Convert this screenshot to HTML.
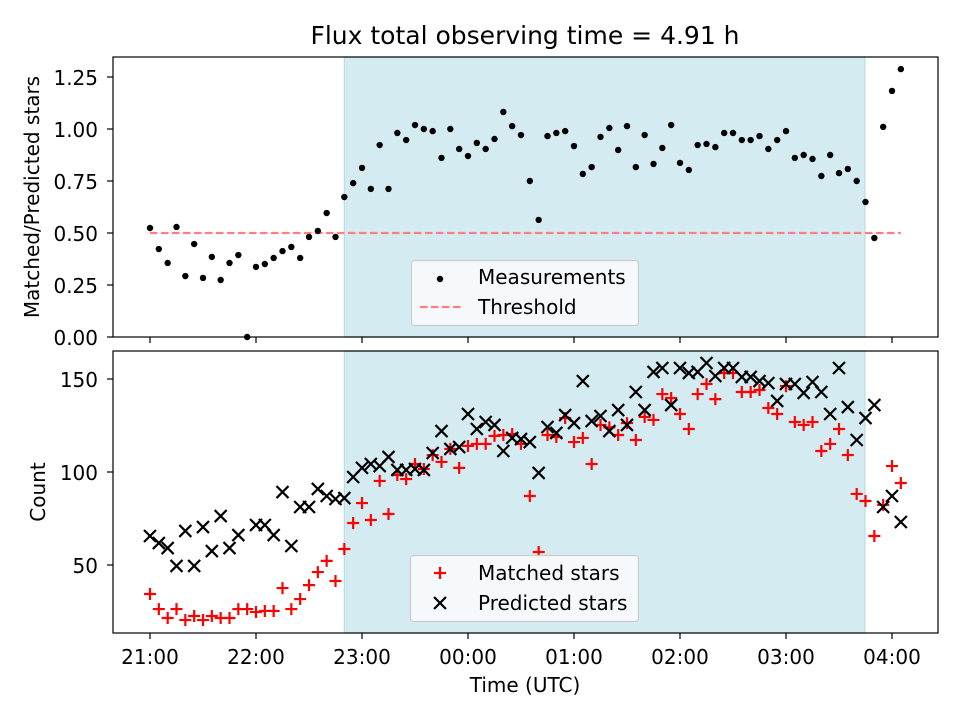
<!DOCTYPE html>
<html><head><meta charset="utf-8"><style>
html,body{margin:0;padding:0;background:#fff;}
svg{display:block;font-family:"DejaVu Sans","Liberation Sans",sans-serif;}
</style></head><body>
<svg id="fig" width="960" height="720" viewBox="0 0 960 720" xmlns="http://www.w3.org/2000/svg"></svg>
<script>
// ---- data ----
const minutes = Array.from({length:86},(_,i)=>i*5); // sample times, minutes after 21:00
const ratio = [0.524,0.423,0.356,0.529,0.293,0.447,0.284,0.385,0.274,0.356,0.394,0.0,0.337,0.351,0.380,0.413,0.433,0.380,0.481,0.510,0.596,0.481,0.673,0.740,0.813,0.712,0.923,0.712,0.981,0.947,1.019,1.000,0.990,0.861,1.000,0.904,0.870,0.933,0.904,0.952,1.082,1.014,0.971,0.750,0.563,0.966,0.981,0.990,0.918,0.784,0.817,0.962,1.005,0.899,1.014,0.817,0.971,0.832,0.909,1.019,0.837,0.803,0.923,0.928,0.913,0.981,0.981,0.947,0.947,0.966,0.904,0.947,0.990,0.861,0.875,0.856,0.774,0.875,0.788,0.808,0.750,0.649,0.476,1.010,1.183,1.288];
const matched = [34.4,26.3,21.5,26.3,20.4,22.6,20.4,22.6,21.5,21.5,26.3,26.3,24.7,25.3,25.3,37.6,26.3,31.7,39.2,46.2,52.2,41.4,58.6,72.6,83.3,74.2,95.2,77.4,98.4,96.2,104.3,101.6,109.1,105.4,112.4,102.2,114.0,115.1,115.1,119.4,119.9,120.4,115.1,87.1,57.0,119.9,118.8,129.0,116.1,118.3,104.3,125.3,124.0,119.9,126.3,117.2,129.6,128.0,141.9,139.8,131.2,123.1,141.9,147.3,139.2,153.2,153.2,143.0,143.0,144.1,134.4,131.2,146.2,126.9,125.3,126.9,111.3,115.1,123.1,109.1,88.2,84.4,65.6,82.3,103.2,94.1];
const predicted = [65.6,61.8,59.1,49.5,68.3,49.5,70.4,57.5,76.3,59.1,66.1,null,71.5,71.5,66.1,89.2,60.2,81.2,81.2,90.9,87.1,85.5,86.0,97.3,102.2,104.3,103.2,108.1,101.1,101.1,101.6,101.1,110.2,122.0,112.4,113.4,131.2,123.1,126.9,125.3,111.3,118.3,117.7,116.1,99.5,124.2,121.0,130.6,126.3,148.9,127.4,130.1,122.0,133.3,125.3,143.0,133.3,153.8,155.9,136.0,155.9,153.2,153.8,158.6,151.6,155.9,155.9,151.1,151.1,148.9,147.8,138.2,147.3,147.3,142.5,148.4,143.0,131.2,155.9,134.9,117.2,129.0,136.0,81.2,87.1,73.1];
const threshold = 0.5;
const spanStart = 110; const spanEnd = 404.7; // minutes after 21:00
const xTickLabels = ["21:00","22:00","23:00","00:00","01:00","02:00","03:00","04:00"];
const topYTicks = [0,0.25,0.5,0.75,1.0,1.25];
const botYTicks = [50,100,150];

// ---- axes ----
const NS="http://www.w3.org/2000/svg";
const svg=document.getElementById('fig');
const AX={l:113,r:938};
const TOP={t:57,b:337}, BOT={t:351,b:633};
const X = m => 150 + m*106/60;
const YT = v => 337 - v*208;
const YB = c => 379 + (150-c)*1.86;
function el(tag,attrs,parent){const e=document.createElementNS(NS,tag);for(const k in attrs)e.setAttribute(k,attrs[k]);(parent||svg).appendChild(e);return e;}
function txt(s,attrs,parent){const e=el('text',attrs,parent);e.textContent=s;return e;}

const bg=el('rect',{x:0,y:0,width:960,height:720,fill:'#fff'});



const title=txt('Flux total observing time = 4.91 h',{x:525,y:44,'font-size':25,'text-anchor':'middle',fill:'#000'});



function panel(P,name){
  const g=el('g',{});
  
  
  const sp=el('rect',{x:X(spanStart),y:P.t,width:X(spanEnd)-X(spanStart),height:P.b-P.t,fill:'#d5ebf2',stroke:'#b8dce7','stroke-width':1.2},g);
  
  
  return g;
}
function frame(P,g){
  const f=el('rect',{x:AX.l,y:P.t,width:AX.r-AX.l,height:P.b-P.t,fill:'none',stroke:'#000','stroke-width':1.2},g);
  
  
  xTickLabels.forEach((lab,i)=>{
    const x=X(i*60);
    el('line',{x1:x,x2:x,y1:P.b,y2:P.b+6,stroke:'#000','stroke-width':1.2},g);
  });
}

// ---- top panel ----
const gTop=panel(TOP,'ratio-panel');
const th=el('line',{x1:X(0),x2:X(minutes[minutes.length-1]),y1:YT(threshold),y2:YT(threshold),stroke:'#ff7f7f','stroke-width':2.2,'stroke-dasharray':'7.5,3.5'},gTop);


ratio.forEach((v,i)=>{
  const c=el('circle',{cx:X(minutes[i]),cy:YT(v),r:3.2,fill:'#000'},gTop);
  
  
});
frame(TOP,gTop);
topYTicks.forEach(v=>{
  const y=YT(v);
  el('line',{x1:AX.l-6,x2:AX.l,y1:y,y2:y,stroke:'#000','stroke-width':1.2},gTop);
  const t=txt(v.toFixed(2),{x:AX.l-15,y:y+8,'font-size':20,'text-anchor':'end'},gTop);
  
  
});
const ylT=txt('Matched/Predicted stars',{x:0,y:0,'font-size':20,'text-anchor':'middle',transform:'translate(39,197) rotate(-90)'});



// top legend
const lg1=el('g',{});


el('rect',{x:411.5,y:260.5,width:227,height:65,rx:3,fill:'#f6f9fb',stroke:'#cccccc','stroke-width':1.2},lg1);
el('circle',{cx:440,cy:279,r:3.2,fill:'#000'},lg1);
const le1=txt('Measurements',{x:478,y:284,'font-size':20},lg1);


el('line',{x1:420,x2:462,y1:307,y2:307,stroke:'#ff7f7f','stroke-width':2.2,'stroke-dasharray':'7.5,3.5'},lg1);
const le2=txt('Threshold',{x:478,y:314,'font-size':20},lg1);



// ---- bottom panel ----
const gBot=panel(BOT,'count-panel');
function plus(x,y,g){const p=el('path',{d:`M${x-6},${y}H${x+6}M${x},${y-6}V${y+6}`,stroke:'#ff0000','stroke-width':2.2,fill:'none'},g);return p;}
function cross(x,y,g){const p=el('path',{d:`M${x-6},${y-6}L${x+6},${y+6}M${x-6},${y+6}L${x+6},${y-6}`,stroke:'#000','stroke-width':2.2,fill:'none'},g);return p;}
matched.forEach((v,i)=>{
  const p=plus(X(minutes[i]),YB(v),gBot);
  
  
});
predicted.forEach((v,i)=>{
  if(v===null) return;
  const p=cross(X(minutes[i]),YB(v),gBot);
  
  
});
frame(BOT,gBot);
botYTicks.forEach(v=>{
  const y=YB(v);
  el('line',{x1:AX.l-6,x2:AX.l,y1:y,y2:y,stroke:'#000','stroke-width':1.2},gBot);
  const t=txt(String(v),{x:AX.l-15,y:y+8,'font-size':20,'text-anchor':'end'},gBot);
  
  
});
xTickLabels.forEach((lab,i)=>{
  const t=txt(lab,{x:X(i*60),y:664,'font-size':20,'text-anchor':'middle'},gBot);
  
  
});
const ylB=txt('Count',{x:0,y:0,'font-size':20,'text-anchor':'middle',transform:'translate(45,492) rotate(-90)'});


const xl=txt('Time (UTC)',{x:525,y:692,'font-size':20,'text-anchor':'middle'});



// bottom legend
const lg2=el('g',{});


el('rect',{x:410.5,y:555.5,width:228,height:66,rx:3,fill:'#f6f9fb',stroke:'#cccccc','stroke-width':1.2},lg2);
plus(440,573,lg2);
const le3=txt('Matched stars',{x:478,y:580,'font-size':20},lg2);


cross(440,603,lg2);
const le4=txt('Predicted stars',{x:478,y:610,'font-size':20},lg2);


</script>
</body></html>
